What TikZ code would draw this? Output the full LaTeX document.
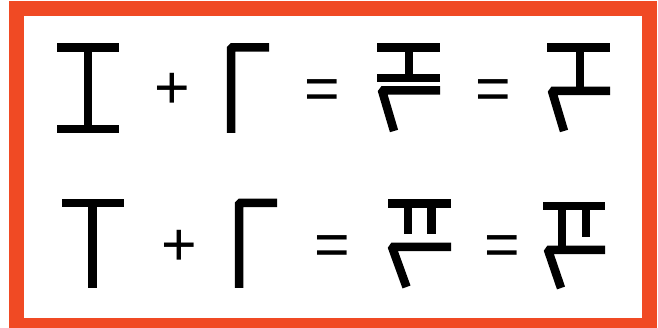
\documentclass[tikz,border=0pt]{standalone}
\usepackage{fontspec}
\newfontfamily\opfont{Liberation Sans}
\usepackage{tikz}
\definecolor{framered}{RGB}{240,74,36}

\begin{document}
\begin{tikzpicture}[x=1pt, y=-1pt,
        stroke/.style={line width=8.5pt, line cap=butt, line join=miter},
        bent/.style={stroke, rounded corners=1.5pt},
        op/.style={font=\opfont\fontsize{61}{61}\selectfont, inner sep=0pt, anchor=base}]
        \useasboundingbox (0,0) rectangle (658,328);

        % Frame
        \draw[framered, line width=15pt] (16.5,8.5) rectangle (649.5,326);

        % First row
        \draw[stroke] (57,47.5)--(119,47.5);
        \draw[stroke] (88,43)--(88,133);
        \draw[stroke] (57,129)--(119,129);
        \node[op] (p1) at (172.5,108.5) {+};
        \draw[bent] (231,133)--(231,47.5)--(269,47.5);
        \node[op] (e1) at (322.5,109.5) {=};
        \draw[stroke] (377,47.5)--(440,47.5);
        \draw[stroke] (409,47.5)--(409,78);
        \draw[stroke] (377,78)--(440,78);
        \draw[bent] (394,131)--(382,90.5)--(440,90.5);
        \node[op] (e2) at (493.5,109.5) {=};
        \draw[stroke] (547,47.5)--(610,47.5);
        \draw[stroke] (580,47.5)--(580,91);
        \draw[bent] (564,131)--(552,91)--(610,91);

        % Second row
        \draw[stroke] (62,203)--(124,203);
        \draw[stroke] (92.5,203)--(92.5,288);
        \node[op] (p2) at (179.5,265.5) {+};
        \draw[bent] (239,288)--(239,203)--(277,203);
        \node[op] (e3) at (332,265.5) {=};
        \draw[stroke] (388,203.5)--(451,203.5);
        \draw[stroke] (408,203.5)--(408,234.5);
        \draw[stroke] (431.5,203.5)--(431.5,234.5);
        \draw[bent] (406.5,287)--(392,247)--(451,247);
        \node[op] (e4) at (502.5,265.5) {=};
        \draw[stroke] (543,206)--(605,206);
        \draw[stroke] (562,206)--(562,250);
        \draw[stroke] (586,206)--(586,237);
        \draw[bent] (561,288)--(548,250)--(605,250);
\end{tikzpicture}
\end{document}
